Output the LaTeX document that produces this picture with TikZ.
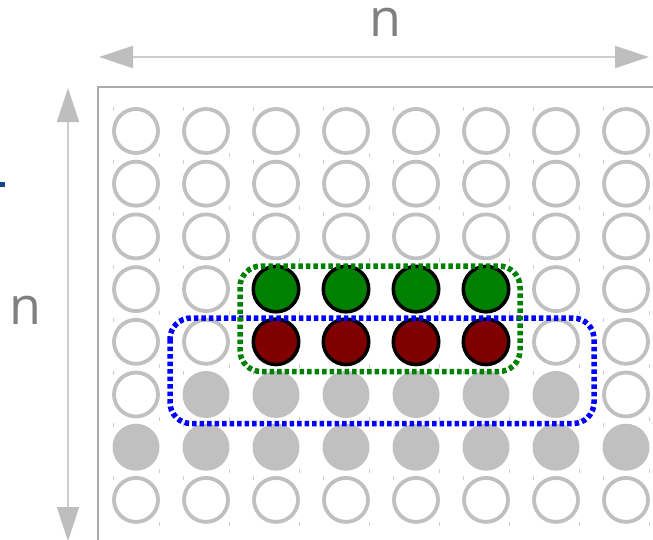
\documentclass[tikz,border=0pt]{standalone}
\usepackage{fontspec}
\setmainfont{Open Sans}
\usetikzlibrary{arrows.meta}
\definecolor{cgray}{RGB}{192,192,192}
\definecolor{framegray}{RGB}{170,170,170}
\definecolor{arrline}{RGB}{205,205,205}
\definecolor{arrhead}{RGB}{190,190,190}
\definecolor{tickgray}{RGB}{205,205,205}
\definecolor{labgray}{RGB}{128,128,128}
\definecolor{cgreen}{RGB}{0,128,0}
\definecolor{cred}{RGB}{128,0,0}
\definecolor{cblue}{RGB}{0,0,255}
\definecolor{fragblue}{RGB}{20,70,140}
\tikzset{
  opencirc/.style={circle, inner sep=0pt, minimum size=44pt, draw=cgray, line width=3.8pt, fill=white},
  graycirc/.style={circle, inner sep=0pt, minimum size=47pt, fill=cgray},
  greencirc/.style={circle, inner sep=0pt, minimum size=45.5pt, fill=cgreen, draw=black, line width=3.5pt},
  redcirc/.style={circle, inner sep=0pt, minimum size=45.5pt, fill=cred, draw=black, line width=3.5pt},
  tickmark/.style={draw=tickgray, line width=0.8pt},
  dimarrow/.style={draw=arrline, line width=2pt, {Triangle[length=34pt,width=22pt,color=arrhead]}-{Triangle[length=34pt,width=22pt,color=arrhead]}},
  sellabel/.style={font=\fontsize{52}{52}\selectfont, text=labgray, inner sep=0pt},
  selbox/.style={line width=5.5pt, dash pattern=on 4.5pt off 3pt, rounded corners=21pt}
}
\begin{document}
\begin{tikzpicture}[x=1pt,y=-1pt]
\useasboundingbox (0,0) rectangle (653,539);
\clip (0,0) rectangle (653,539);
% frame
\draw[framegray, line width=2pt] (98,560) -- (98,87) -- (680,87);
% dimension arrows
\coordinate (tl) at (99,57);
\coordinate (tr) at (649,57);
\draw[dimarrow] (tl) -- (tr);
\coordinate (lt) at (68,88);
\coordinate (lb) at (68,541);
\draw[dimarrow] (lt) -- (lb);
\node[sellabel] (ntop) at (385,22) {n};
\node[sellabel] (nleft) at (25,310) {n};
% fragment of cut-off text
\fill[fragblue] (0,181.5) rectangle (5,186.5);
% ticks
\foreach \i in {0,...,7}{
  \foreach \j in {0,...,7}{
    \pgfmathsetmacro{\cx}{136+70*\j}
    \pgfmathsetmacro{\cy}{131+52.7*\i}
    \draw[tickmark] (\cx-23,\cy-24) -- (\cx-23,\cy-20);
    \draw[tickmark] (\cx+23,\cy+22) -- (\cx+23,\cy+26);
  }
}
% circles
\foreach \i in {0,...,7}{
  \foreach \j in {0,...,7}{
    \pgfmathsetmacro{\cx}{136+70*\j}
    \pgfmathsetmacro{\cy}{131+52.7*\i}
    \pgfmathtruncatemacro{\kind}{
      (\i==6) ? 1 :
      ((\i==5 && \j>=1 && \j<=6) ? 1 :
      ((\i==3 && \j>=2 && \j<=5) ? 2 :
      ((\i==4 && \j>=2 && \j<=5) ? 3 : 0)))}
    \ifcase\kind
      \node[opencirc] (c-\i-\j) at (\cx,\cy) {};
    \or
      \node[graycirc] (c-\i-\j) at (\cx,\cy) {};
    \or
      \node[greencirc] (c-\i-\j) at (\cx,\cy) {};
    \or
      \node[redcirc] (c-\i-\j) at (\cx,\cy) {};
    \fi
  }
}
% selection boxes
\draw[selbox, cblue] (170,318) rectangle (594,423.5);
\draw[selbox, cgreen] (240,266) rectangle (520,371.5);
\end{tikzpicture}
\end{document}
